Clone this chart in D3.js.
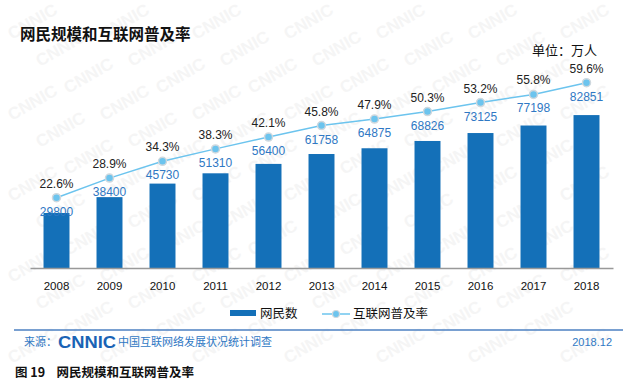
<!DOCTYPE html>
<html>
<head>
<meta charset="utf-8">
<script src="https://cdn.jsdelivr.net/npm/d3@7"></script>
<style>
  body { margin: 0; background: #fff; }
  svg { display: block; font-family: Arial, "Liberation Sans", "Noto Sans CJK SC", sans-serif; }
</style>
</head>
<body>
<div id="chart"></div>
<script>
const years = ['2008', '2009', '2010', '2011', '2012', '2013', '2014', '2015', '2016', '2017', '2018'];
const netizens = [29800, 38400, 45730, 51310, 56400, 61758, 64875, 68826, 73125, 77198, 82851];
const rates = [22.6, 28.9, 34.3, 38.3, 42.1, 45.8, 47.9, 50.3, 53.2, 55.8, 59.6];

const width = 630;
const height = 390;
const barColor = '#1470b8';
const lineColor = '#6cc4ee';
const blueText = '#2f78c4';
const cjk = '"Noto Sans CJK SC", sans-serif';

const svg = d3.select('#chart').append('svg')
  .attr('width', width)
  .attr('height', height)
  .attr('viewBox', [0, 0, width, height]);

// faint CNNIC watermark, kept inside the picture
const wm = svg.append('g').attr('fill', '#f5f5f5').attr('font-weight', 'bold')
  .attr('font-size', 17).attr('font-family', 'Arial, sans-serif');
for (let r = 0; r < 13; r++) {
  for (let c = 0; c < 7; c++) {
    const px = 12 + c * 92 + (r % 3) * 28;
    const py = 40 + r * 27;
    if (px > 565 || py > 382) continue;
    wm.append('text')
      .attr('transform', `translate(${px}, ${py}) rotate(-30)`)
      .text('CNNIC');
  }
}

const x = d3.scaleBand().domain(years).range([30, 613]).paddingInner(0.51).paddingOuter(0.255);
const y = d3.scaleLinear().domain([0, 29800]).range([268, 213]);
const yRate = d3.scaleLinear().domain([0, 100]).range([268, -43]);

svg.append('text')
  .attr('x', 20).attr('y', 40)
  .attr('font-family', cjk).attr('font-weight', 'bold').attr('font-size', 15.5)
  .attr('fill', '#111')
  .text('网民规模和互联网普及率');

svg.append('text')
  .attr('x', 597).attr('y', 55)
  .attr('text-anchor', 'end')
  .attr('font-family', cjk).attr('font-size', 13).attr('fill', '#111')
  .text('单位：万人');

// bars
svg.append('g')
  .selectAll('rect')
  .data(years)
  .join('rect')
  .attr('x', (d) => x(d))
  .attr('width', x.bandwidth())
  .attr('y', (d, i) => y(netizens[i]))
  .attr('height', (d, i) => y(0) - y(netizens[i]))
  .attr('fill', barColor);

// axis
const xAxis = svg.append('g')
  .attr('transform', `translate(0, ${y(0)})`)
  .call(d3.axisBottom(x).tickSize(0).tickPadding(14));
xAxis.select('.domain').attr('stroke', '#999').attr('stroke-width', 1.5);
xAxis.selectAll('text').attr('font-size', 11.5).attr('fill', '#111')
  .attr('font-family', 'Arial, "Liberation Sans", sans-serif');

// line
const cx = (i) => x(years[i]) + x.bandwidth() / 2;
const line = d3.line().x((d, i) => cx(i)).y((d) => yRate(d));
svg.append('path')
  .datum(rates)
  .attr('d', line)
  .attr('fill', 'none')
  .attr('stroke', lineColor)
  .attr('stroke-width', 1.5);

svg.append('g')
  .selectAll('circle')
  .data(rates)
  .join('circle')
  .attr('cx', (d, i) => cx(i))
  .attr('cy', (d) => yRate(d))
  .attr('r', 4)
  .attr('fill', lineColor)
  .attr('stroke', '#cfd8de')
  .attr('stroke-width', 1.5);

// percent labels
svg.append('g')
  .selectAll('text')
  .data(rates)
  .join('text')
  .attr('x', (d, i) => cx(i))
  .attr('y', (d) => yRate(d) - 10)
  .attr('text-anchor', 'middle')
  .attr('font-size', 12).attr('fill', '#222')
  .text((d) => `${d.toFixed(1)}%`);

// value labels
svg.append('g')
  .selectAll('text')
  .data(netizens)
  .join('text')
  .attr('x', (d, i) => cx(i))
  .attr('y', (d, i) => yRate(rates[i]) + 18)
  .attr('text-anchor', 'middle')
  .attr('font-size', 12).attr('fill', blueText)
  .text((d) => d);

// legend
const legend = svg.append('g').attr('font-family', cjk).attr('font-size', 12.5).attr('fill', '#111');
legend.append('rect').attr('x', 230).attr('y', 310).attr('width', 26).attr('height', 6).attr('fill', barColor);
legend.append('text').attr('x', 260).attr('y', 318).text('网民数');
legend.append('line').attr('x1', 322).attr('x2', 350).attr('y1', 314).attr('y2', 314)
  .attr('stroke', lineColor).attr('stroke-width', 1.5);
legend.append('circle').attr('cx', 336).attr('cy', 314).attr('r', 3.5)
  .attr('fill', lineColor).attr('stroke', '#cfd8de').attr('stroke-width', 1.2);
legend.append('text').attr('x', 353).attr('y', 318).text('互联网普及率');

// footer
svg.append('line')
  .attr('x1', 14).attr('x2', 623).attr('y1', 330).attr('y2', 330)
  .attr('stroke', '#4d80c2').attr('stroke-width', 1.5);

svg.append('text')
  .attr('x', 24).attr('y', 346)
  .attr('font-family', cjk).attr('font-size', 11).attr('fill', blueText)
  .text('来源：');

svg.append('text')
  .attr('x', 58).attr('y', 348)
  .attr('font-family', 'Arial, "Liberation Sans", sans-serif')
  .attr('font-weight', 'bold').attr('font-size', 16)
  .attr('fill', '#1a63b5')
  .attr('textLength', 58).attr('lengthAdjust', 'spacingAndGlyphs')
  .text('CNNIC');

svg.append('text')
  .attr('x', 118).attr('y', 346)
  .attr('font-family', cjk).attr('font-size', 11).attr('fill', blueText)
  .text('中国互联网络发展状况统计调查');

svg.append('text')
  .attr('x', 612).attr('y', 346)
  .attr('text-anchor', 'end')
  .attr('font-size', 11).attr('fill', blueText)
  .text('2018.12');

svg.append('text')
  .attr('x', 15).attr('y', 377)
  .attr('font-family', cjk).attr('font-weight', 'bold').attr('font-size', 12.5)
  .attr('fill', '#111')
  .attr('xml:space', 'preserve')
  .text('图 19    网民规模和互联网普及率');
</script>
</body>
</html>
